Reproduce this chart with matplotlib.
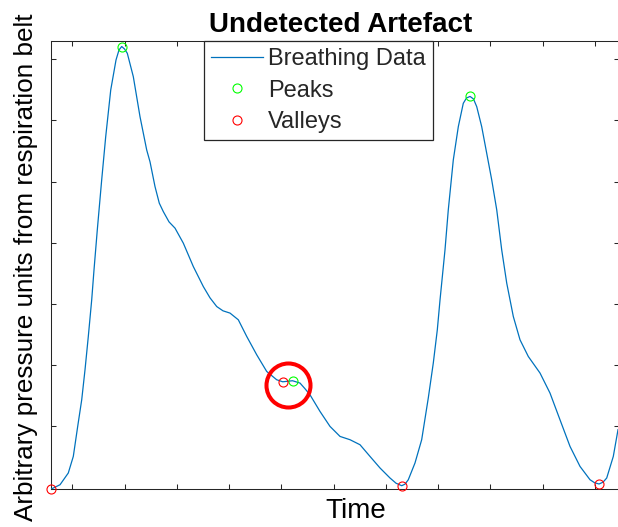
import matplotlib
matplotlib.use("Agg")
import matplotlib.pyplot as plt

plt.rcParams['font.family'] = ['Liberation Sans', 'DejaVu Sans']

# Respiration belt trace (time in s, arbitrary pressure units)
time = [0.598, 0.765, 0.923, 1.019, 1.103, 1.180, 1.243, 1.306, 1.371, 1.415,
        1.478, 1.562, 1.639, 1.735, 1.836, 1.893, 1.945, 1.999, 2.052, 2.167,
        2.295, 2.423, 2.487, 2.582, 2.664, 2.741, 2.850, 2.965, 3.124, 3.315,
        3.506, 3.634, 3.763, 3.883, 4.017, 4.176, 4.337, 4.528, 4.719, 4.910,
        5.025, 5.117, 5.213, 5.356, 5.452, 5.547, 5.739, 5.930, 6.122, 6.313,
        6.504, 6.695, 6.887, 7.078, 7.193, 7.302, 7.365, 7.428, 7.556, 7.684,
        7.811, 7.906, 7.983, 8.035, 8.130, 8.193, 8.289, 8.385, 8.480, 8.542,
        8.609, 8.675, 8.737, 8.832, 8.928, 9.024, 9.120, 9.215, 9.311, 9.437,
        9.565, 9.724, 9.948, 10.139, 10.330, 10.522, 10.713, 10.904, 10.991, 11.077,
        11.153, 11.224, 11.350, 11.440]
pressure = [-0.036, 0.034, 0.226, 0.498, 0.989, 1.426, 1.917, 2.462, 3.062, 3.553,
            4.208, 5.026, 5.735, 6.499, 6.990, 7.154, 7.211, 7.170, 7.100, 6.717,
            6.062, 5.517, 5.321, 4.917, 4.645, 4.507, 4.339, 4.236, 3.990, 3.607,
            3.280, 3.095, 2.952, 2.882, 2.845, 2.735, 2.462, 2.162, 1.889, 1.753,
            1.720, 1.728, 1.737, 1.699, 1.606, 1.507, 1.234, 0.989, 0.825, 0.771,
            0.689, 0.498, 0.308, 0.144, 0.059, 0.018, 0.043, 0.116, 0.390, 0.771,
            1.458, 2.026, 2.571, 3.062, 3.880, 4.535, 5.354, 5.899, 6.281, 6.368,
            6.393, 6.352, 6.226, 5.899, 5.463, 5.026, 4.535, 3.880, 3.336, 2.789,
            2.408, 2.134, 1.863, 1.535, 1.098, 0.661, 0.334, 0.116, 0.067, 0.046,
            0.075, 0.144, 0.498, 0.935]

# Detected extrema (indices into the trace)
peak_idx = [16, 42, 70]
valley_idx = [0, 40, 55, 89]

# Highlight ring around the undetected artefact
artefact_time = 5.121
artefact_value = 1.671

x_ticks = [1, 2, 3, 4, 5, 6, 7, 8, 9, 10, 11]
y_ticks = [1, 2, 3, 4, 5, 6, 7]

W, H = 618, 527
fig = plt.figure(figsize=(W / 100, H / 100), dpi=100)
ax_l, ax_r, ax_t, ax_b = 51.3, 619.0, 40.7, 489.0
ax = fig.add_axes([ax_l / W, 1 - ax_b / H, (ax_r - ax_l) / W, (ax_b - ax_t) / H])

blue = '#0072BD'
ax.plot(time, pressure, color=blue, lw=0.9, label='Breathing Data', zorder=3,
        solid_joinstyle='round')
ax.plot([time[i] for i in peak_idx], [pressure[i] for i in peak_idx], 'o',
        ls='none', mfc='none', mec='#00FF00', ms=6.5, mew=0.8, label='Peaks',
        zorder=4, clip_on=False)
ax.plot([time[i] for i in valley_idx], [pressure[i] for i in valley_idx], 'o',
        ls='none', mfc='none', mec='#FF0000', ms=6.5, mew=0.8, label='Valleys',
        zorder=4, clip_on=False)
ax.plot([artefact_time], [artefact_value], 'o', mfc='none', mec='#FF0000',
        ms=31.7, mew=2.9, zorder=5)

ax.set_xlim(time[0], 11.459)
ax.set_ylim(-0.036, 7.306)
ax.set_xticks(x_ticks)
ax.set_yticks(y_ticks)
ax.set_xticklabels([])
ax.set_yticklabels([])
ax.tick_params(axis='both', direction='in', length=3.6, width=0.75,
               color='#262626', top=True, right=True)
for s in ax.spines.values():
    s.set_color('#262626')
    s.set_linewidth(0.75)

axw = ax_r - ax_l
axh = ax_b - ax_t
ax.set_title('Undetected Artefact', fontsize=20, fontweight='bold',
             x=(341 - ax_l) / axw, y=(ax_b - 32) / axh, pad=0, va='baseline')
ax.set_xlabel('Time', fontsize=20)
ax.xaxis.label.set_va('baseline')
ax.xaxis.set_label_coords((355.7 - ax_l) / axw, (ax_b - 518.3) / axh)
ax.set_ylabel('Arbitrary pressure units from respiration belt', fontsize=18.8)
ax.yaxis.label.set_rotation_mode('default')
ax.yaxis.label.set_va('center')
ax.yaxis.label.set_ha('center')
ax.yaxis.set_label_coords((26.5 - ax_l) / axw, (ax_b - 267.5) / axh)

leg = ax.legend(loc='upper left',
                bbox_to_anchor=((204.3 - ax_l) / axw, 1.0),
                bbox_transform=ax.transAxes,
                fontsize=17, frameon=True, fancybox=False, framealpha=1,
                edgecolor='#262626', borderpad=0.3, borderaxespad=0,
                handlelength=2.2, handletextpad=0.2, labelspacing=0.415,
                numpoints=1)
leg.get_frame().set_linewidth(0.9)
for t in leg.get_texts():
    t.set_color('#262626')

fig.savefig('out.png', dpi=100)
